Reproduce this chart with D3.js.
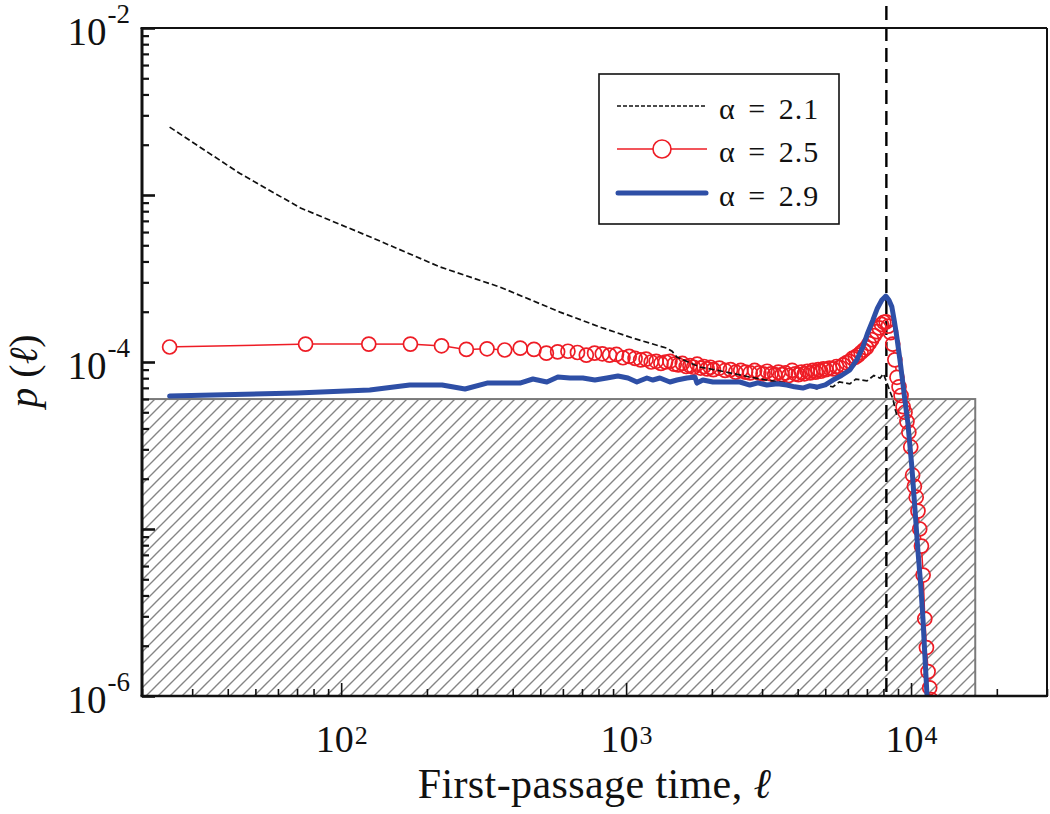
<!DOCTYPE html>
<html>
<head>
<meta charset="utf-8">
<script src="https://cdnjs.cloudflare.com/ajax/libs/d3/7.8.5/d3.min.js"></script>
<style>
body { margin: 0; background: #fff; }
svg { display: block; font-family: "Liberation Serif", "Times New Roman", serif; }
</style>
</head>
<body>
<svg id="chart" width="1050" height="814"></svg>
<script>
//data
//alpha = 2.1 (black dashed)
const black_x = [25, 44, 72, 129, 222, 361, 586, 809, 1056, 1390, 1450, 1507, 1650, 1815, 2100, 2400, 2718, 3100, 3664, 4070, 4300, 4670, 4900, 5318, 5600, 6100, 6400, 7000, 7400, 7780, 8000, 8230, 8450, 8640, 8800, 8990]
const black_y = [2.55e-3, 1.35e-3, 8.36e-4, 5.53e-4, 3.71e-4, 2.81e-4, 1.99e-4, 1.62e-4, 1.39e-4, 1.21e-4, 1.16e-4, 1.07e-4, 1.0e-4, 9.33e-5, 8.9e-5, 8.5e-5, 8.13e-5, 7.8e-5, 7.48e-5, 6.98e-5, 7.2e-5, 6.9e-5, 7.3e-5, 7.1e-5, 7.6e-5, 7.4e-5, 7.9e-5, 7.7e-5, 8.3e-5, 8.0e-5, 8.5e-5, 7.5e-5, 6.6e-5, 6.0e-5, 5.2e-5, 4.6e-5]

//alpha = 2.5 (red circles)
const red_x = [25, 75, 125, 175, 225, 275, 325, 375, 425, 475, 525, 575, 625, 675, 725, 775, 825, 875, 925, 975,
  1025, 1075, 1125, 1175, 1225, 1275, 1325, 1375, 1425, 1475, 1525, 1575, 1625, 1675, 1725, 1775, 1825, 1875, 1925, 1975,
  2025, 2125, 2225, 2325, 2425, 2525, 2625, 2725, 2825, 2925, 3025, 3125, 3225, 3325, 3425, 3525, 3625, 3725, 3825, 3925,
  4025, 4125, 4225, 4325, 4425, 4525, 4625, 4725, 4825, 4925, 5025, 5175, 5325, 5475, 5625, 5775, 5925, 6075, 6225, 6375,
  6525, 6675, 6825, 6975, 7125, 7275, 7425, 7575, 7725, 7875, 8025, 8175, 8325, 8475, 8625, 8775, 8925, 9075, 9225, 9375,
  9525, 9675, 9825, 9975, 10125, 10275, 10425, 10575, 10725, 10875, 11025, 11175, 11325, 11475, 11625, 11775]
const red_y = [1.23e-4, 1.28e-4, 1.28e-4, 1.28e-4, 1.25e-4, 1.19e-4, 1.20e-4, 1.18e-4, 1.21e-4, 1.19e-4, 1.13e-4, 1.15e-4, 1.16e-4, 1.14e-4, 1.10e-4, 1.13e-4, 1.12e-4, 1.10e-4, 1.11e-4, 1.06e-4,
  1.08e-4, 1.05e-4, 1.03e-4, 1.04e-4, 1.00e-4, 1.01e-4, 9.8e-5, 1.00e-4, 1.01e-4, 9.7e-5, 9.6e-5, 9.8e-5, 9.4e-5, 9.5e-5, 9.3e-5, 9.7e-5, 9.2e-5, 9.4e-5, 9.1e-5, 9.3e-5,
  9.0e-5, 9.2e-5, 8.9e-5, 9.0e-5, 8.7e-5, 8.9e-5, 8.7e-5, 8.6e-5, 8.9e-5, 8.6e-5, 8.5e-5, 8.8e-5, 8.5e-5, 8.4e-5, 8.7e-5, 8.4e-5, 8.6e-5, 8.3e-5, 8.9e-5, 8.5e-5,
  8.4e-5, 8.7e-5, 8.5e-5, 8.8e-5, 8.6e-5, 8.9e-5, 8.7e-5, 9.0e-5, 8.8e-5, 9.1e-5, 9.0e-5, 9.2e-5, 9.1e-5, 9.4e-5, 9.3e-5, 9.6e-5, 9.9e-5, 1.01e-4, 1.05e-4, 1.07e-4,
  1.10e-4, 1.14e-4, 1.18e-4, 1.22e-4, 1.29e-4, 1.36e-4, 1.44e-4, 1.52e-4, 1.60e-4, 1.68e-4, 1.73e-4, 1.74e-4, 1.64e-4, 1.50e-4, 1.28e-4, 1.03e-4, 8.1e-5, 7.1e-5, 6.3e-5, 5.4e-5,
  5.0e-5, 4.4e-5, 3.8e-5, 3.1e-5, 2.1e-5, 1.8e-5, 1.55e-5, 1.28e-5, 1.0e-5, 7.9e-6, 5.3e-6, 2.9e-6, 1.95e-6, 1.4e-6, 1.12e-6, 9.5e-7]

//alpha = 2.9 (blue thick line)
const blue_x = [25, 70, 126, 174, 226, 272, 325, 424, 471, 527, 576, 635, 705, 777, 856, 936, 1015, 1091, 1183, 1242,
  1314, 1425, 1508, 1634, 1744, 1772, 1860, 2016, 2258, 2508, 2719, 2900, 3120, 3400, 3666, 3900, 4172, 4400, 4674, 5000,
  5317, 5700, 6100, 6450, 6776, 7050, 7345, 7620, 7898, 8158, 8360, 8563, 8740, 8916, 9140, 9358, 9512, 9745, 9904, 10066,
  10312, 10566, 10800, 11002, 11180, 11366, 11550]
const blue_y = [6.25e-5, 6.52e-5, 6.80e-5, 7.28e-5, 7.28e-5, 6.89e-5, 7.48e-5, 7.48e-5, 7.91e-5, 7.59e-5, 8.13e-5, 8.02e-5, 8.02e-5, 7.80e-5, 8.02e-5, 8.24e-5, 8.02e-5, 7.59e-5, 8.02e-5, 7.80e-5,
  8.02e-5, 7.59e-5, 7.80e-5, 8.02e-5, 8.13e-5, 7.48e-5, 7.80e-5, 7.59e-5, 7.59e-5, 7.59e-5, 7.28e-5, 7.5e-5, 7.28e-5, 7.4e-5, 7.28e-5, 7.1e-5, 6.98e-5, 7.2e-5, 7.08e-5, 7.3e-5,
  7.80e-5, 8.3e-5, 8.96e-5, 1.03e-4, 1.23e-4, 1.50e-4, 1.78e-4, 2.10e-4, 2.35e-4, 2.48e-4, 2.35e-4, 2.14e-4, 1.75e-4, 1.41e-4, 1.03e-4, 7.48e-5, 5.92e-5, 4.31e-5, 3.18e-5, 2.35e-5,
  1.34e-5, 7.48e-6, 4.75e-6, 2.97e-6, 1.76e-6, 1.04e-6, 6.8e-7]

const legend_labels = ["α = 2.1", "α = 2.5", "α = 2.9"]

//tick labels
const x_major = [1e2, 1e3, 1e4]
const x_tick_exp = ["2", "3", "4"]
const y_major = [1e-2, 1e-4, 1e-6]
const y_tick_exp = ["-2", "-4", "-6"]

//the marked time (vertical dashed line) and the hatched region
const mark_x = 8192
const shade_x = [20, 16800]
const shade_y = [1e-6, 6e-5]

//size and margin
const width = 1050, height = 814
const margin = {top: 28, right: 3, bottom: 118, left: 142}
const innerWidth = width - margin.left - margin.right
const innerHeight = height - margin.top - margin.bottom

const red = "#ee1c25"
const blue = "#2e4fa6"

const svg = d3.select('#chart')
const g = svg.append('g').attr("transform", `translate(${margin.left}, ${margin.top})`)

//log scales on both axes
const x = d3.scaleLog().domain([20, 30000]).range([0, innerWidth])
const y = d3.scaleLog().domain([1e-6, 1e-2]).range([innerHeight, 0])

const defs = svg.append("defs")
defs.append("clipPath").attr("id", "plotclip")
  .append("rect").attr("x", 0).attr("y", 0).attr("width", innerWidth).attr("height", innerHeight)

const hatch = defs.append("pattern").attr("id", "hatch")
  .attr("patternUnits", "userSpaceOnUse").attr("width", 12).attr("height", 12)
hatch.append("path")
  .attr("d", "M-3,3 L3,-3 M0,12 L12,0 M9,15 L15,9")
  .attr("stroke", "#858585").attr("stroke-width", 1.4)

//hatched region
g.append("rect")
  .attr("x", x(shade_x[0])).attr("y", y(shade_y[1]))
  .attr("width", x(shade_x[1]) - x(shade_x[0]))
  .attr("height", y(shade_y[0]) - y(shade_y[1]))
  .attr("fill", "url(#hatch)")
  .attr("stroke", "#7a7a7a").attr("stroke-width", 2)

//vertical dashed line
g.append("line")
  .attr("x1", x(mark_x)).attr("x2", x(mark_x))
  .attr("y1", -22).attr("y2", innerHeight)
  .attr("stroke", "#000").attr("stroke-width", 2.4)
  .attr("stroke-dasharray", "14,7")

const plot = g.append("g").attr("clip-path", "url(#plotclip)")

//red series: line segments stop at the circle edge
const r = 7
const redPts = red_x.map((d, i) => [x(d), y(red_y[i])])
const segs = []
for (let i = 0; i < redPts.length - 1; i++) {
  const a = redPts[i], b = redPts[i + 1]
  const dx = b[0] - a[0], dy = b[1] - a[1]
  const len = Math.sqrt(dx * dx + dy * dy)
  if (len > 2 * r) {
    const ux = dx / len, uy = dy / len
    segs.push([a[0] + ux * r, a[1] + uy * r, b[0] - ux * r, b[1] - uy * r])
  }
}
plot.append("g").selectAll("line").data(segs).join("line")
  .attr("x1", d => d[0]).attr("y1", d => d[1])
  .attr("x2", d => d[2]).attr("y2", d => d[3])
  .attr("stroke", red).attr("stroke-width", 1.5)

plot.append("g").selectAll("circle").data(redPts).join("circle")
  .attr("cx", d => d[0]).attr("cy", d => d[1]).attr("r", r)
  .attr("fill", "none").attr("stroke", red).attr("stroke-width", 1.7)

//black dashed series
const line = d3.line().x(d => x(d[0])).y(d => y(d[1]))
plot.append("path")
  .datum(black_x.map((d, i) => [d, black_y[i]]))
  .attr("d", line)
  .attr("fill", "none").attr("stroke", "#111").attr("stroke-width", 1.7)
  .attr("stroke-dasharray", "6,3")

//blue series
plot.append("path")
  .datum(blue_x.map((d, i) => [d, blue_y[i]]))
  .attr("d", line)
  .attr("fill", "none").attr("stroke", blue).attr("stroke-width", 5)
  .attr("stroke-linejoin", "round").attr("stroke-linecap", "round")

//axes, ticks pointing inwards
const isMajor = v => Math.abs(Math.log10(v) - Math.round(Math.log10(v))) < 1e-6

const xMinor = g.append("g").attr("transform", `translate(0,${innerHeight})`)
  .call(d3.axisBottom(x).tickValues(x.ticks().filter(v => !isMajor(v))).tickSize(-7).tickSizeOuter(0).tickFormat(""))
const xMajor = g.append("g").attr("transform", `translate(0,${innerHeight})`)
  .call(d3.axisBottom(x).tickValues(x.ticks().filter(isMajor)).tickSize(-13).tickSizeOuter(0).tickFormat(""))
const yMinor = g.append("g")
  .call(d3.axisLeft(y).tickValues(y.ticks().filter(v => !isMajor(v))).tickSize(-7).tickSizeOuter(0).tickFormat(""))
const yMajor = g.append("g")
  .call(d3.axisLeft(y).tickValues(y.ticks().filter(isMajor)).tickSize(-13).tickSizeOuter(0).tickFormat(""))

for (const a of [xMinor, xMajor, yMinor, yMajor]) {
  a.select(".domain").remove()
  a.selectAll(".tick text").remove()
}
xMinor.selectAll(".tick line").attr("stroke", "#111").attr("stroke-width", 1.6)
xMajor.selectAll(".tick line").attr("stroke", "#111").attr("stroke-width", 1.6)
yMinor.selectAll(".tick line").attr("stroke", "#111").attr("stroke-width", 2.2)
yMajor.selectAll(".tick line").attr("stroke", "#111").attr("stroke-width", 2.6)

//frame
g.append("line").attr("x1", 0).attr("x2", 0).attr("y1", 0).attr("y2", innerHeight).attr("stroke", "#111").attr("stroke-width", 3)
g.append("line").attr("x1", -1.5).attr("x2", innerWidth).attr("y1", innerHeight).attr("y2", innerHeight).attr("stroke", "#111").attr("stroke-width", 2.6)
g.append("line").attr("x1", -1.5).attr("x2", innerWidth).attr("y1", 0).attr("y2", 0).attr("stroke", "#111").attr("stroke-width", 2)
g.append("line").attr("x1", innerWidth).attr("x2", innerWidth).attr("y1", 0).attr("y2", innerHeight + 1).attr("stroke", "#111").attr("stroke-width", 2)

//tick labels: "10" and its exponent as separate texts
const xLab = g.append("g")
x_major.forEach((v, i) => {
  const base = xLab.append("text").attr("y", innerHeight + 56)
    .style("font-size", "38px").attr("fill", "#111").text("10")
  const sup = xLab.append("text").attr("y", innerHeight + 48)
    .style("font-size", "26px").attr("fill", "#111").text(x_tick_exp[i])
  const wb = base.node().getComputedTextLength(), ws = sup.node().getComputedTextLength()
  const left = x(v) - (wb + ws) / 2
  base.attr("x", left)
  sup.attr("x", left + wb + 1)
})

const yLab = g.append("g")
y_major.forEach((v, i) => {
  const sup = yLab.append("text").attr("x", -12).attr("y", y(v) - 5)
    .attr("text-anchor", "end").style("font-size", "27px").attr("fill", "#111").text(y_tick_exp[i])
  const ws = sup.node().getComputedTextLength()
  yLab.append("text").attr("x", -13 - ws).attr("y", y(v) + 17)
    .attr("text-anchor", "end").style("font-size", "39px").attr("fill", "#111").text("10")
})

//axis titles
const xt = g.append("text")
  .attr("x", innerWidth / 2).attr("y", innerHeight + 102)
  .attr("text-anchor", "middle").style("font-size", "42px").style("letter-spacing", "0.4px").attr("fill", "#111")
xt.append("tspan").text("First-passage time, ")
xt.append("tspan").style("font-style", "italic").text("ℓ")

const yt = svg.append("text")
  .attr("transform", `translate(37, ${margin.top + y(1e-4) + 9}) rotate(-90)`)
  .attr("text-anchor", "middle").style("font-size", "40px").attr("fill", "#111")
yt.append("tspan").style("font-style", "italic").text("p")
yt.append("tspan").text(" (")
yt.append("tspan").style("font-style", "italic").text("ℓ")
yt.append("tspan").text(")")

//legend
const legend = svg.append("g").attr("transform", "translate(599,74)")
legend.append("rect").attr("width", 240).attr("height", 150)
  .attr("fill", "#fff").attr("stroke", "#111").attr("stroke-width", 1.6)
const rowY = [32, 75, 119]
legend.append("line").attr("x1", 18).attr("x2", 108).attr("y1", rowY[0]).attr("y2", rowY[0])
  .attr("stroke", "#111").attr("stroke-width", 1.5).attr("stroke-dasharray", "4,2")
legend.append("line").attr("x1", 18).attr("x2", 108).attr("y1", rowY[1]).attr("y2", rowY[1])
  .attr("stroke", red).attr("stroke-width", 1.5)
legend.append("circle").attr("cx", 63).attr("cy", rowY[1]).attr("r", 9)
  .attr("fill", "#fff").attr("stroke", red).attr("stroke-width", 1.6)
legend.append("line").attr("x1", 19).attr("x2", 107).attr("y1", rowY[2]).attr("y2", rowY[2])
  .attr("stroke", blue).attr("stroke-width", 5).attr("stroke-linecap", "round")
legend.selectAll("text.lab").data(legend_labels).join("text")
  .attr("class", "lab")
  .attr("x", 120).attr("y", (d, i) => rowY[i] + 13)
  .style("font-size", "30px").style("letter-spacing", "1px").style("word-spacing", "4px").attr("fill", "#111")
  .text(d => d)
</script>
</body>
</html>
